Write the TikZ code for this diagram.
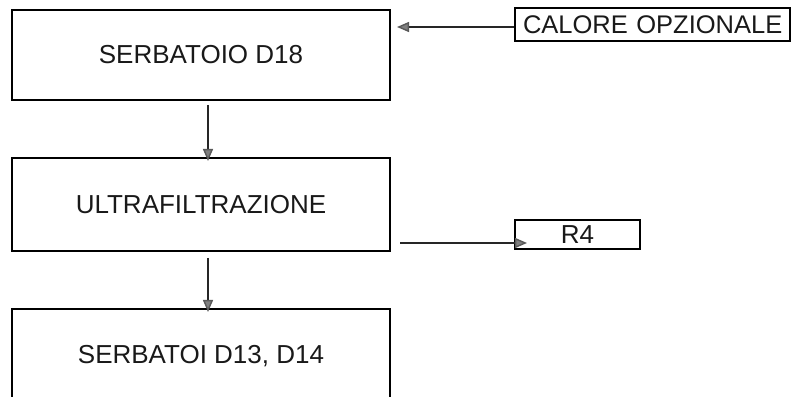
\documentclass[tikz,border=0pt]{standalone}
\usepackage{fontspec}
\setmainfont{Liberation Sans}
\usetikzlibrary{arrows.meta}
\begin{document}
\begin{tikzpicture}[x=1pt,y=1pt,
  box/.style={draw=black,line width=1.5pt,minimum width=378pt,inner sep=0pt,font=\fontsize{26}{30}\selectfont,text=black!90},
  small/.style={draw=black,line width=1.1pt,inner sep=0pt,font=\fontsize{26}{30}\selectfont,text=black!90},
  flow/.style={draw=black!85,line width=1.4pt,-{Triangle[length=12pt,width=10pt,fill=gray,color=gray!70!black]}}]
\useasboundingbox (0,0) rectangle (794,396);
\clip (0,0) rectangle (794,396);
\node[box,minimum height=90pt] (d18) at (201,341) {SERBATOIO D18};
\node[box,minimum height=93pt] (uf) at (201,191.5) {\raisebox{-3pt}{ULTRAFILTRAZIONE}};
\node[box,minimum height=94pt] (d13) at (201,40) {SERBATOI D13, D14};
\node[small,minimum width=275pt,minimum height=33pt,text width=275pt,align=left,font=\fontsize{25.5}{30}\selectfont] (cal) at (652.5,371.5) {\hspace{8pt}CALORE OPZIONALE};
\node[small,minimum width=125pt,minimum height=29pt] (r4) at (577.5,161.5) {R4};
\coordinate (a1s) at (208,291);
\coordinate (a1e) at (208,235);
\coordinate (a2s) at (208,138);
\coordinate (a2e) at (208,84);
\coordinate (calend) at (397,369);
\coordinate (r4s) at (400,153);
\coordinate (r4e) at (527,153);
\draw[flow] (a1s) -- (a1e);
\draw[flow] (a2s) -- (a2e);
\draw[flow] (cal.west |- calend) -- (calend);
\draw[flow] (r4s) -- (r4e);
\end{tikzpicture}
\end{document}
